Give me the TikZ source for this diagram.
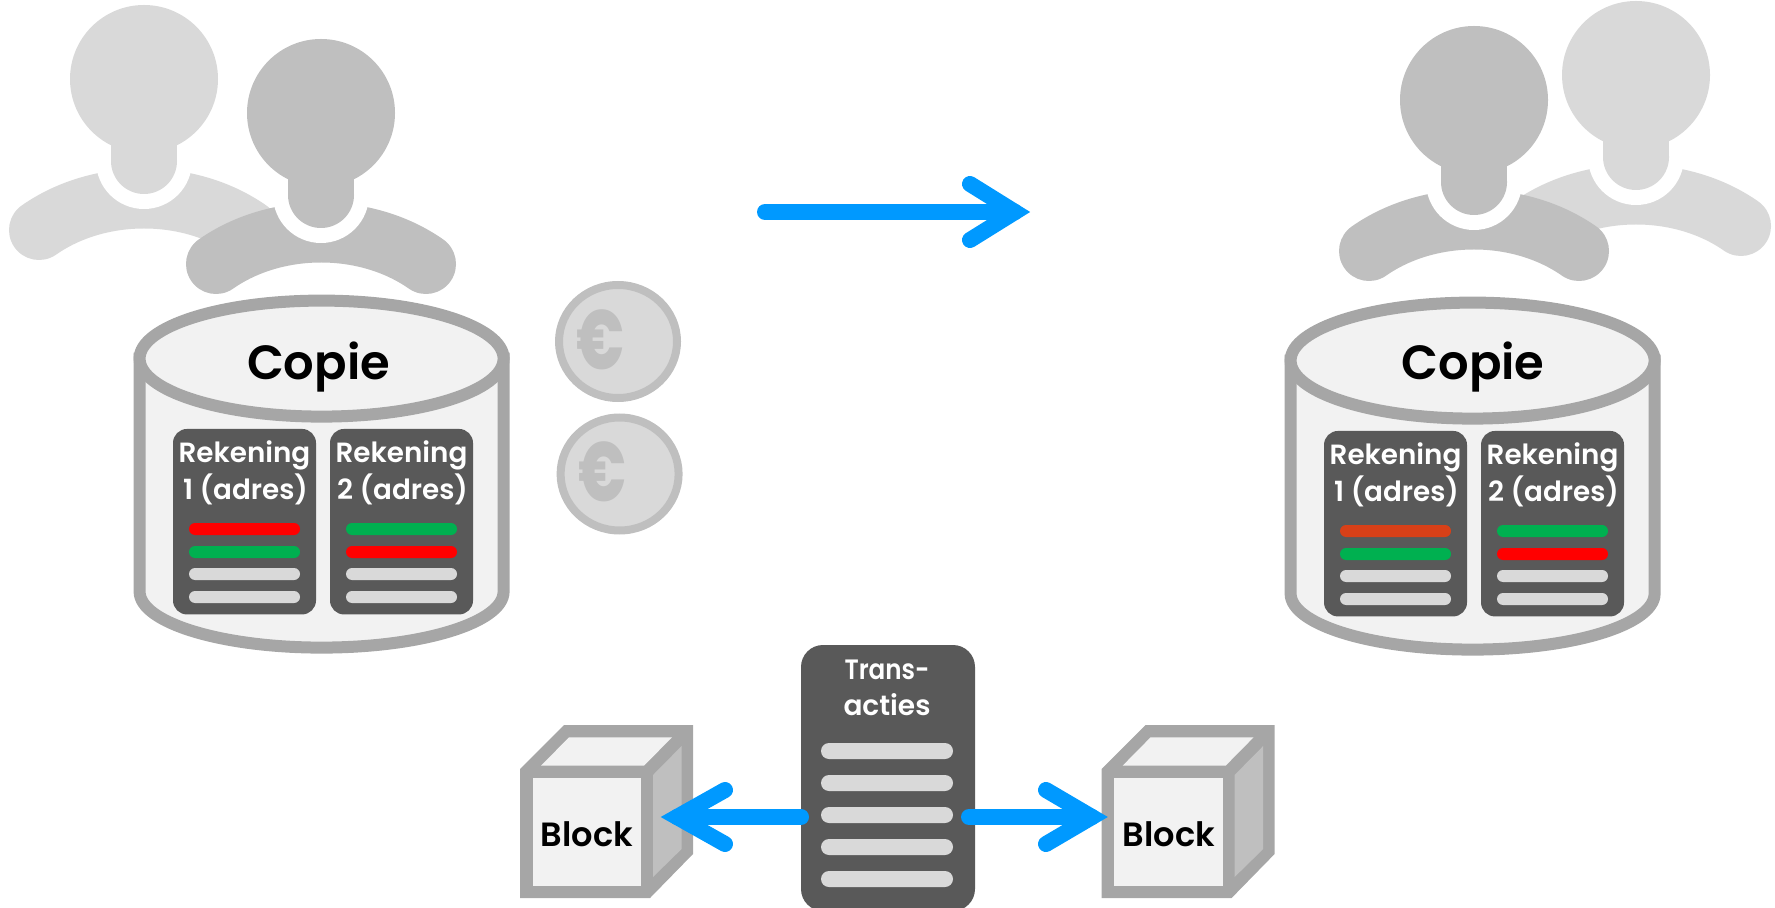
\documentclass[tikz,border=0pt]{standalone}
\usepackage{fontspec}
\usetikzlibrary{shapes.geometric}
\setmainfont{Poppins}[BoldFont={Poppins SemiBold}]
\newfontfamily\eurofont{Poppins ExtraBold}
\definecolor{edgegray}{HTML}{A6A6A6}
\definecolor{pale}{HTML}{F2F2F2}
\definecolor{dark}{HTML}{595959}
\definecolor{midgray}{HTML}{BFBFBF}
\definecolor{light}{HTML}{D9D9D9}
\definecolor{okgreen}{HTML}{00B050}
\definecolor{arrowblue}{HTML}{0099FF}
\definecolor{orangered}{HTML}{D84018}
\tikzset{
  cyl/.style={draw=edgegray,fill=pale,line width=6pt},
  acct/.style={fill=dark,rounded corners=7pt,minimum width=71.5pt,minimum height=92.75pt,inner sep=0pt},
  acctlabel/.style={text=white,font=\fontsize{13.9}{16}\selectfont\bfseries,inner sep=0pt},
  txlabel/.style={text=white,font=\fontsize{14}{16}\selectfont\bfseries,inner sep=0pt},
  bar/.style={rounded corners=3pt,minimum width=55.5pt,minimum height=6pt,inner sep=0pt},
  txbar/.style={fill=light,rounded corners=4pt,minimum width=66pt,minimum height=8pt,inner sep=0pt},
  copielabel/.style={text=black,font=\fontsize{24}{28}\selectfont\bfseries,inner sep=0pt},
  blocklabel/.style={text=black,font=\fontsize{16.8}{20}\selectfont\bfseries,inner sep=0pt},
  coin/.style={ellipse,draw=midgray,fill=light,line width=4pt,minimum width=59pt,minimum height=56.5pt,inner sep=0pt},
  euro/.style={text=midgray,font=\fontsize{42}{42}\selectfont\eurofont,inner sep=0pt},
  flow/.style={draw=arrowblue,line width=8pt,line cap=round},
  chevron/.style={draw=arrowblue,line width=8pt,line cap=round,line join=miter,miter limit=10},
}
\newcommand{\personfig}[3]{%
  \draw[#3,line width=30pt,line cap=round] (#1-105,#2+151) .. controls (#1-45,#2+109) and (#1+45,#2+109) .. (#1+105,#2+151);
  \fill[white] (#1,#2+82) circle[radius=48];
  \fill[#3] (#1,#2) circle[radius=74];
  \fill[#3] (#1-33,#2+50) rectangle (#1+33,#2+82);
  \fill[#3] (#1,#2+82) circle[radius=33];
}
\newcommand{\cylfig}[2]{%
  \path[cyl] (#1-182,#2) -- (#1-182,#2+233) arc[start angle=180,end angle=0,x radius=182,y radius=56] -- (#1+182,#2) -- cycle;
  \path[cyl] (#1,#2) ellipse[x radius=182,y radius=58];
}
\newcommand{\acctfig}[4]{%
  \node[acct] (#3) at (#1,#2) {};
  \node[acctlabel] (#3a) at (#1,#2-66) {Rekening};
  \node[acctlabel] (#3b) at (#1+1,#2-32) {#4};
}
\newcommand{\barsfig}[5]{%
  \node[bar,fill=#4] (#3a) at (#1,#2) {};
  \node[bar,fill=#5] (#3b) at (#1,#2+23) {};
  \node[bar,fill=light] (#3c) at (#1,#2+45) {};
  \node[bar,fill=light] (#3d) at (#1,#2+68) {};
}
\newcommand{\cubefig}[4]{%
  \fill[edgegray] (#1,769) -- (#1+44,725) -- (#1+173,725) -- (#1+173,854) -- (#1+130,898) -- (#1,898) -- cycle;
  \fill[pale] (#1+21,765.7) -- (#1+49,737.3) -- (#1+152,737.3) -- (#1+124,765.7) -- cycle;
  \fill[midgray] (#1+133,775) -- (#1+161.6,746) -- (#1+161.6,849) -- (#1+133,877) -- cycle;
  \fill[pale] (#1+12.6,777.7) rectangle (#1+121,886);
  \node[blocklabel] (#2) at (#3,#4) {Block};
}
\begin{document}
\begin{tikzpicture}[x=0.5pt,y=-0.5pt]
\useasboundingbox (0,0) rectangle (1775,908);
% left group
\personfig{144}{79}{light}
\personfig{321}{113}{midgray}
\cylfig{321.6}{358.6}
\node[copielabel,anchor=base] (copieL) at (318.6,379.6) {Copie};
\acctfig{244.5}{521.7}{accA}{1 (adres)}
\barsfig{244.5}{529}{accAbar}{red}{okgreen}
\acctfig{401.5}{521.7}{accB}{2 (adres)}
\barsfig{401.5}{529}{accBbar}{okgreen}{red}
% coins
\node[coin] (coinA) at (618,341.5) {};
\node[euro] (euroA) at (600,340) {\scalebox{0.72}[1]{€}};
\node[coin] (coinB) at (619.6,474) {};
\node[euro] (euroB) at (602,472) {\scalebox{0.72}[1]{€}};
% right group
\personfig{1636}{75}{light}
\personfig{1474}{100}{midgray}
\cylfig{1472.6}{360.6}
\node[copielabel,anchor=base] (copieR) at (1473,379.6) {Copie};
\acctfig{1395.5}{523.7}{accC}{1 (adres)}
\barsfig{1395.5}{531}{accCbar}{orangered}{okgreen}
\acctfig{1552.5}{523.7}{accD}{2 (adres)}
\barsfig{1552.5}{531}{accDbar}{okgreen}{red}
% top arrow
\coordinate (topstart) at (765,212);
\coordinate (toptip) at (1015,212);
\coordinate (topup) at (970,184);
\coordinate (topdown) at (970,240);
\draw[flow] (topstart) -- (toptip);
\draw[chevron] (topup) -- (toptip) -- (topdown);
% blocks
\cubefig{520}{blockL}{587}{834}
\cubefig{1101.6}{blockR}{1169}{834}
% transactions
\node[fill=dark,rounded corners=11pt,minimum width=87pt,minimum height=133pt,inner sep=0pt] (tx) at (888,778) {};
\node[txlabel] (txa) at (887,670) {\scalebox{0.88}[1]{Trans-}};
\node[txlabel] (txb) at (887,705) {acties};
\node[txbar] (t1) at (887,751) {};
\node[txbar] (t2) at (887,783) {};
\node[txbar] (t3) at (887,815) {};
\node[txbar] (t4) at (887,847) {};
\node[txbar] (t5) at (887,879) {};
% bottom arrows
\coordinate (lstart) at (801,817);
\coordinate (ltip) at (677,817);
\coordinate (lup) at (725,790);
\coordinate (ldown) at (725,844);
\draw[flow] (lstart) -- (ltip);
\draw[chevron] (lup) -- (ltip) -- (ldown);
\coordinate (rstart) at (969,817);
\coordinate (rtip) at (1092,817);
\coordinate (rup) at (1046,790);
\coordinate (rdown) at (1046,844);
\draw[flow] (rstart) -- (rtip);
\draw[chevron] (rup) -- (rtip) -- (rdown);
\end{tikzpicture}
\end{document}
